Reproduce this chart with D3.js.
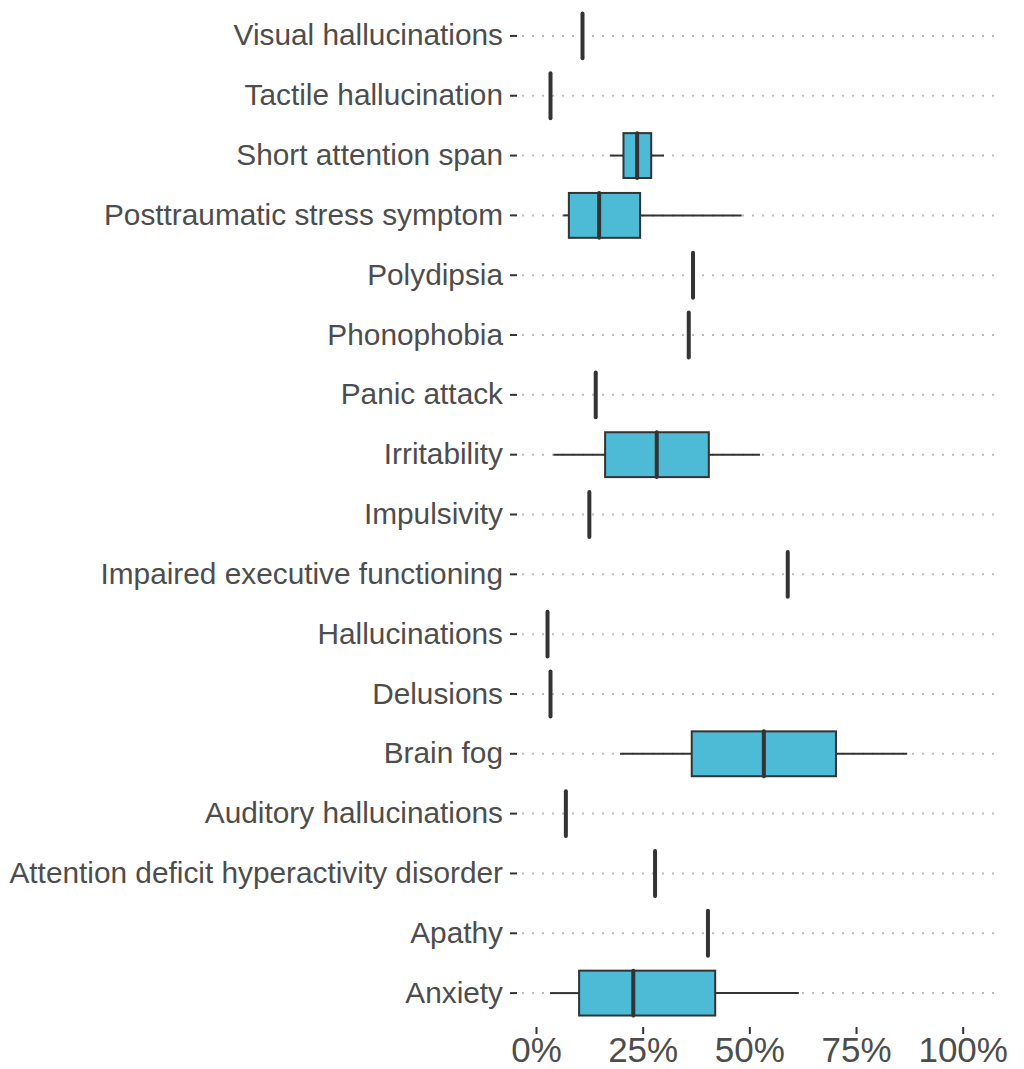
<!DOCTYPE html>
<html>
<head>
<meta charset="utf-8">
<script src="https://cdn.jsdelivr.net/npm/d3@7"></script>
<style>
  body { margin: 0; background: #fff; }
  text { font-family: "Liberation Sans", Arial, sans-serif; }
</style>
</head>
<body>
<script>
// symptom categories, top to bottom
var symptoms = ['Visual hallucinations', 'Tactile hallucination', 'Short attention span',
	'Posttraumatic stress symptom', 'Polydipsia', 'Phonophobia', 'Panic attack',
	'Irritability', 'Impulsivity', 'Impaired executive functioning', 'Hallucinations',
	'Delusions', 'Brain fog', 'Auditory hallucinations',
	'Attention deficit hyperactivity disorder', 'Apathy', 'Anxiety'];

// box plot stats (percent)
var lower  = [10.9, 3.4, 17.3,  6.4, 36.8, 35.8, 14.0,  4.1, 12.5, 59.0, 2.7, 3.4, 19.7, 7.0, 27.9, 40.3,  3.3];
var q1     = [10.9, 3.4, 20.5,  7.7, 36.8, 35.8, 14.0, 16.2, 12.5, 59.0, 2.7, 3.4, 36.5, 7.0, 27.9, 40.3, 10.1];
var median = [10.9, 3.4, 23.7, 14.8, 36.8, 35.8, 14.0, 28.3, 12.5, 59.0, 2.7, 3.4, 53.4, 7.0, 27.9, 40.3, 22.8];
var q3     = [10.9, 3.4, 27.0, 24.4, 36.8, 35.8, 14.0, 40.5, 12.5, 59.0, 2.7, 3.4, 70.3, 7.0, 27.9, 40.3, 42.0];
var upper  = [10.9, 3.4, 30.0, 48.2, 36.8, 35.8, 14.0, 52.5, 12.5, 59.0, 2.7, 3.4, 87.0, 7.0, 27.9, 40.3, 61.6];

var x_ticks = [0, 25, 50, 75, 100];

var rows = symptoms.map(function(s, i) {
	return {name: s, lo: lower[i], q1: q1[i], med: median[i], q3: q3[i], hi: upper[i]};
});

var width = 1024, height = 1069;
var panel_left = 517, panel_right = 996, panel_top = 6, panel_bottom = 1027;

var svg = d3.select('body').append('svg')
	.attr('width', width)
	.attr('height', height);

var x = d3.scaleLinear().domain([0, 100]).range([536, 962.7]);
var y = d3.scaleBand().domain(symptoms).range([panel_top, 1023]);
var box_h = y.bandwidth() * 0.75;
var mid = function(d) { return y(d.name) + y.bandwidth() / 2; };

// dotted grid lines
svg.append('g').selectAll('line')
	.data(rows)
	.enter().append('line')
		.attr('x1', panel_left + 5)
		.attr('x2', panel_right)
		.attr('y1', mid)
		.attr('y2', mid)
		.attr('stroke', '#bdbdbd')
		.attr('stroke-width', 2)
		.attr('stroke-dasharray', '2,8');

// y axis
var yaxis = svg.append('g')
	.attr('transform', 'translate(' + panel_left + ',0)')
	.call(d3.axisLeft(y).tickSize(7).tickPadding(7));
yaxis.select('.domain').remove();
yaxis.selectAll('line').attr('stroke', '#333333').attr('stroke-width', 2);
yaxis.selectAll('text').attr('fill', '#4d4d4d').style('font-size', '29.8px');

// x axis
var xaxis = svg.append('g')
	.attr('transform', 'translate(0,' + panel_bottom + ')')
	.call(d3.axisBottom(x).tickValues(x_ticks).tickSize(7).tickPadding(3).tickFormat(function(d) { return d + '%'; }));
xaxis.select('.domain').remove();
xaxis.selectAll('line').attr('stroke', '#333333').attr('stroke-width', 2);
xaxis.selectAll('text').attr('fill', '#4d4d4d').style('font-size', '35px');

var boxes = svg.append('g').selectAll('g')
	.data(rows)
	.enter().append('g');

// whiskers
boxes.append('line')
	.attr('x1', function(d) { return x(d.lo); })
	.attr('x2', function(d) { return x(d.q1); })
	.attr('y1', mid).attr('y2', mid)
	.attr('stroke', '#333333').attr('stroke-width', 2);
boxes.append('line')
	.attr('x1', function(d) { return x(d.q3); })
	.attr('x2', function(d) { return x(d.hi); })
	.attr('y1', mid).attr('y2', mid)
	.attr('stroke', '#333333').attr('stroke-width', 2);

// boxes
boxes.append('rect')
	.attr('x', function(d) { return x(d.q1); })
	.attr('width', function(d) { return x(d.q3) - x(d.q1); })
	.attr('y', function(d) { return mid(d) - box_h / 2; })
	.attr('height', box_h)
	.attr('fill', '#4DBBD5')
	.attr('stroke', '#333333')
	.attr('stroke-width', 2);

// medians
boxes.append('line')
	.attr('x1', function(d) { return x(d.med); })
	.attr('x2', function(d) { return x(d.med); })
	.attr('y1', function(d) { return mid(d) - box_h / 2; })
	.attr('y2', function(d) { return mid(d) + box_h / 2; })
	.attr('stroke', '#333333')
	.attr('stroke-width', 4)
	.attr('stroke-linecap', 'round');
</script>
</body>
</html>
